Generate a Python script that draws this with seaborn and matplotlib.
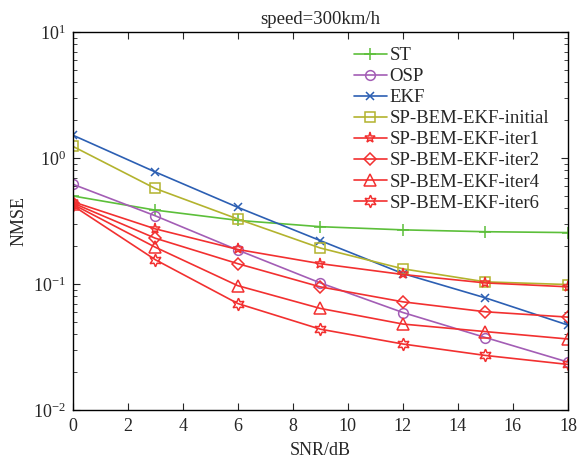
import numpy as np
import pandas as pd
import matplotlib
matplotlib.use('Agg')
import matplotlib.pyplot as plt
import seaborn as sns

# SNR points and NMSE values
snr = [0, 3, 6, 9, 12, 15, 18]
st = [0.50, 0.386, 0.32, 0.285, 0.269, 0.260, 0.256]
osp = [0.62, 0.348, 0.186, 0.102, 0.0594, 0.0376, 0.0240]
ekf = [1.52, 0.775, 0.406, 0.221, 0.121, 0.0776, 0.0472]
sp_initial = [1.24, 0.573, 0.328, 0.193, 0.132, 0.104, 0.099]
sp_iter1 = [0.45, 0.274, 0.188, 0.145, 0.119, 0.102, 0.095]
sp_iter2 = [0.44, 0.231, 0.145, 0.0949, 0.0722, 0.0602, 0.0546]
sp_iter4 = [0.43, 0.196, 0.097, 0.064, 0.0481, 0.0419, 0.0366]
sp_iter6 = [0.42, 0.156, 0.070, 0.0438, 0.0334, 0.0271, 0.0230]

labels = ['ST', 'OSP', 'EKF', 'SP-BEM-EKF-initial', 'SP-BEM-EKF-iter1',
          'SP-BEM-EKF-iter2', 'SP-BEM-EKF-iter4', 'SP-BEM-EKF-iter6']
series = [st, osp, ekf, sp_initial, sp_iter1, sp_iter2, sp_iter4, sp_iter6]
colors = ['#5cbf3a', '#a35db5', '#2c5fb3', '#b3b32e', '#f23030', '#f23030', '#f23030', '#f23030']
markers = ['+', 'o', 'x', 's', '*', 'D', '^', (6, 1, 0)]
msizes = [8, 7, 6, 7, 8, 6.5, 8, 9]

sns.set_style('ticks')
plt.rcParams['font.family'] = ['Liberation Serif', 'DejaVu Serif']
plt.rcParams['mathtext.fontset'] = 'custom'
plt.rcParams['mathtext.rm'] = 'Liberation Serif'
plt.rcParams['mathtext.it'] = 'Liberation Serif'

fig = plt.figure(figsize=(5.8, 4.58), dpi=100)
ax = fig.add_axes([0.1253, 0.1048, 0.854, 0.8253])

for lab, vals, c, m, ms in zip(labels, series, colors, markers, msizes):
    sns.lineplot(x=snr, y=vals, ax=ax, color=c, marker=m, markersize=ms,
                 markerfacecolor='none', markeredgecolor=c, markeredgewidth=1.1,
                 linewidth=1.2, label=lab)

ax.set_yscale('log')
ax.set_xlim(0, 18)
ax.set_ylim(1e-2, 1e1)
ax.set_xticks(range(0, 19, 2))
ax.set_yticks([1e-2, 1e-1, 1e0, 1e1])
ax.tick_params(which='both', direction='in', top=True, right=True, labelsize=13)
ax.tick_params(axis='x', pad=6)
ax.tick_params(axis='y', pad=5)
ax.tick_params(which='major', length=5)
ax.tick_params(which='minor', length=3)
for s in ax.spines.values():
    s.set_linewidth(1.0)
    s.set_color('black')

ax.set_xlabel('SNR/dB', fontsize=13, labelpad=4.5)
ax.set_ylabel('NMSE', fontsize=13, labelpad=4)
ax.set_title('speed=300km/h', fontsize=13.5, pad=6)

leg = ax.legend(loc='upper right', bbox_to_anchor=(0.992, 1.0), fontsize=13.5,
                frameon=True, handlelength=1.75, handletextpad=0.15,
                labelspacing=0.21, borderaxespad=0.5, borderpad=0.3)
leg.get_frame().set_edgecolor('white')
leg.get_frame().set_linewidth(0)

fig.savefig('out.png', dpi=100)
